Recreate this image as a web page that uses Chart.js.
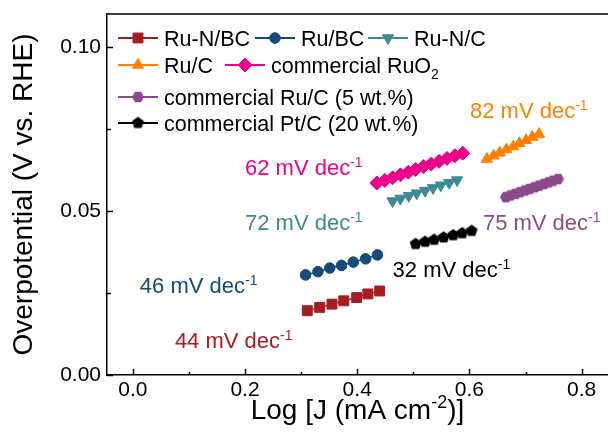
<!DOCTYPE html>
<html>
<head>
<meta charset="utf-8">
<script src="https://cdn.jsdelivr.net/npm/chart.js@4.4.0/dist/chart.umd.min.js"></script>
<style>
html,body{margin:0;padding:0;background:#fff;overflow:hidden}
canvas{display:block}
</style>
</head>
<body>
<canvas id="c" width="608" height="445"></canvas>
<script>
/* Tafel plots – overpotential vs log J */
const FONT="'Liberation Sans', Arial, sans-serif";

const ruNBC_x=[0.311,0.333,0.355,0.376,0.399,0.419,0.440];
const ruNBC_y=[0.0196,0.0206,0.0216,0.0226,0.0236,0.0247,0.0256];

const ruBC_x=[0.308,0.330,0.351,0.372,0.393,0.415,0.436];
const ruBC_y=[0.0305,0.0315,0.0326,0.0334,0.0344,0.0354,0.0366];

const ruNC_x=[0.463,0.477,0.492,0.506,0.521,0.535,0.549,0.564,0.578];
const ruNC_y=[0.0530,0.0538,0.0546,0.0554,0.0562,0.0570,0.0578,0.0586,0.0594];

const ruC_x=[0.631,0.643,0.654,0.666,0.678,0.689,0.701,0.712,0.724];
const ruC_y=[0.0658,0.0668,0.0677,0.0687,0.0696,0.0706,0.0715,0.0725,0.0734];

const ruo2_x=[0.435,0.449,0.463,0.477,0.491,0.504,0.518,0.532,0.546,0.560,0.574,0.588];
const ruo2_y=[0.0585,0.0593,0.0601,0.0610,0.0618,0.0626,0.0635,0.0643,0.0651,0.0660,0.0668,0.0676];

const cRuC_x=[0.665,0.673,0.682,0.690,0.699,0.707,0.716,0.724,0.733,0.741,0.749,0.758];
const cRuC_y=[0.0542,0.0547,0.0552,0.0557,0.0562,0.0567,0.0572,0.0577,0.0582,0.0587,0.0592,0.0597];

const ptC_x=[0.504,0.521,0.537,0.554,0.571,0.587,0.604];
const ptC_y=[0.0399,0.0406,0.0412,0.0419,0.0426,0.0432,0.0439];

const xTicks=[0,0.1,0.2,0.3,0.4,0.5,0.6,0.7,0.8];
const yTicks=[0,0.025,0.05,0.075,0.1];

// slope labels, anchored in data units (left edge, baseline)
const slopeLabels=[
  {t:'82 mV dec',x:0.601,y:0.0783,c:'#ff8000'},
  {t:'62 mV dec',x:0.200,y:0.0609,c:'#ec008c'},
  {t:'72 mV dec',x:0.200,y:0.0442,c:'#3e8a92'},
  {t:'75 mV dec',x:0.624,y:0.0442,c:'#8b4a8c'},
  {t:'32 mV dec',x:0.463,y:0.0299,c:'#000000'},
  {t:'46 mV dec',x:0.0125,y:0.0250,c:'#154a7a'},
  {t:'44 mV dec',x:0.075,y:0.0082,c:'#a81c1f'},
];

function polyImg(n,r,color,rot){
  const c=document.createElement('canvas');
  const s=Math.ceil(r*2+2);c.width=c.height=s;
  const g=c.getContext('2d');g.fillStyle=color;g.beginPath();
  for(let i=0;i<n;i++){
    const a=rot+i*2*Math.PI/n;
    const px=s/2+r*Math.cos(a),py=s/2+r*Math.sin(a);
    i?g.lineTo(px,py):g.moveTo(px,py);
  }
  g.closePath();g.fill();return c;
}
const hexPt=polyImg(6,6,'#8b4a8c',0);
const pentPt=polyImg(5,6.2,'#000000',-Math.PI/2);

function ds(label,xs,ys,color,style,radius,rot){
  return {label,data:xs.map((x,i)=>({x,y:ys[i]})),showLine:true,
    borderColor:color,backgroundColor:color,borderWidth:1.5,
    pointStyle:style,pointRadius:radius,pointHoverRadius:radius,pointRotation:rot||0,
    pointBackgroundColor:color,pointBorderColor:color,pointBorderWidth:1};
}

const datasets=[
  ds('Ru-N/BC',ruNBC_x,ruNBC_y,'#a81c1f','rect',7),
  ds('Ru/BC',ruBC_x,ruBC_y,'#154a7a','circle',5.3),
  ds('Ru-N/C',ruNC_x,ruNC_y,'#3e8a92','triangle',6.5,180),
  ds('Ru/C',ruC_x,ruC_y,'#ff8000','triangle',6.5),
  ds('commercial RuO2',ruo2_x,ruo2_y,'#ec008c','rectRot',7),
  ds('commercial Ru/C (5 wt.%)',cRuC_x,cRuC_y,'#8b4a8c',hexPt,6),
  ds('commercial Pt/C (20 wt.%)',ptC_x,ptC_y,'#000000',pentPt,6),
];

// legend layout: [dataset index, line start x, row centre y, text parts]
const legendItems=[
  [0,118,38,[['Ru-N/BC']]],
  [1,255,38,[['Ru/BC']]],
  [2,368,38,[['Ru-N/C']]],
  [3,118,65,[['Ru/C']]],
  [4,225,65,[['commercial RuO'],['2','sub']]],
  [5,118,97,[['commercial Ru/C (5 wt.%)']]],
  [6,118,123,[['commercial Pt/C (20 wt.%)']]],
];

function rich(ctx,x,y,parts,size,align){
  const small=Math.round(size*0.64);
  let w=0;
  parts.forEach(p=>{ctx.font=(p[1]?small:size)+'px '+FONT;w+=ctx.measureText(p[0]).width;});
  let cx=align==='center'?x-w/2:x;
  ctx.textAlign='left';ctx.textBaseline='alphabetic';
  parts.forEach(p=>{
    ctx.font=(p[1]?small:size)+'px '+FONT;
    const dy=p[1]==='sup'?-size*0.38:p[1]==='sub'?size*0.28:0;
    ctx.fillText(p[0],cx,y+dy);
    cx+=ctx.measureText(p[0]).width;
  });
}

const decor={
  id:'decor',
  afterDraw(chart){
    const ctx=chart.ctx,a=chart.chartArea,sx=chart.scales.x,sy=chart.scales.y;
    ctx.save();
    ctx.strokeStyle='#000';ctx.lineWidth=1.5;
    // top frame line
    ctx.beginPath();ctx.moveTo(a.left,a.top);ctx.lineTo(chart.width,a.top);ctx.stroke();
    // inward ticks
    ctx.beginPath();
    xTicks.forEach((v,i)=>{const px=Math.round(sx.getPixelForValue(v))+0.5;const l=i%2?3:6;ctx.moveTo(px,a.bottom);ctx.lineTo(px,a.bottom-l);});
    yTicks.forEach((v,i)=>{const py=Math.round(sy.getPixelForValue(v))+0.5;const l=i%2?4:6;ctx.moveTo(a.left,py);ctx.lineTo(a.left+l,py);});
    ctx.stroke();

    // legend
    legendItems.forEach(([di,x,y,parts])=>{
      const d=chart.data.datasets[di];
      ctx.strokeStyle=d.borderColor;ctx.lineWidth=2;
      ctx.beginPath();ctx.moveTo(x,y);ctx.lineTo(x+40,y);ctx.stroke();
      ctx.fillStyle=d.borderColor;ctx.strokeStyle=d.borderColor;ctx.lineWidth=1;
      Chart.helpers.drawPoint(ctx,{pointStyle:d.pointStyle,radius:d.pointRadius,rotation:d.pointRotation,borderWidth:1},x+20,y);
      ctx.fillStyle='#000';
      rich(ctx,x+46,y+7.5,parts,21.5);
    });

    // slope labels
    slopeLabels.forEach(s=>{
      ctx.fillStyle=s.c;
      rich(ctx,sx.getPixelForValue(s.x),sy.getPixelForValue(s.y),[[s.t],['-1','sup']],22);
    });

    // axis titles
    ctx.fillStyle='#000';
    rich(ctx,(a.left+a.right)/2,419,[['Log [J (mA cm'],['-2','sup'],[')]']],28,'center');
    ctx.translate(32,(a.top+a.bottom)/2);ctx.rotate(-Math.PI/2);
    rich(ctx,0,0,[['Overpotential (V vs. RHE)']],28,'center');
    ctx.restore();
  }
};

new Chart(document.getElementById('c'),{
  type:'scatter',
  data:{datasets},
  options:{
    responsive:false,animation:false,devicePixelRatio:1,
    layout:{autoPadding:false,padding:{top:14,right:0,left:0,bottom:0}},
    plugins:{legend:{display:false},tooltip:{enabled:false}},
    scales:{
      x:{type:'linear',min:-0.046,max:0.847,
        afterBuildTicks(s){s.ticks=xTicks.map(v=>({value:v}));},
        afterFit(s){s.height=70;s.paddingLeft=0;s.paddingRight=0;},
        grid:{display:false,drawTicks:false},
        border:{display:true,color:'#000',width:1.5},
        ticks:{color:'#000',padding:3,font:{family:FONT,size:21},maxRotation:0,autoSkip:false,
          callback:(v,i)=>i%2?'':v.toFixed(1)}},
      y:{type:'linear',min:0,max:0.11,
        afterBuildTicks(s){s.ticks=yTicks.map(v=>({value:v}));},
        afterFit(s){s.width=107;s.paddingTop=0;s.paddingBottom=0;},
        grid:{display:false,drawTicks:false},
        border:{display:true,color:'#000',width:1.5},
        ticks:{color:'#000',padding:6,font:{family:FONT,size:21},autoSkip:false,
          callback:(v,i)=>i%2?'':v.toFixed(2)}}
    }
  },
  plugins:[decor]
});
</script>
</body>
</html>
